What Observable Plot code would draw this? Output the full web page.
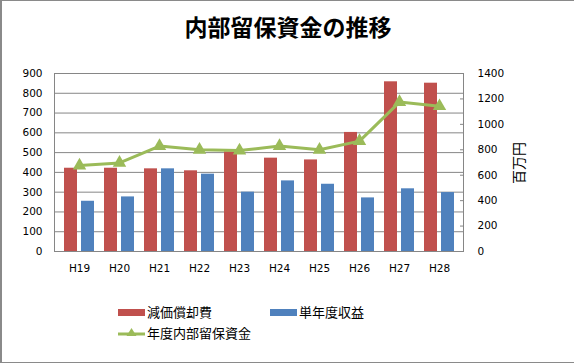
<!DOCTYPE html>
<html><head><meta charset="utf-8">
<script src="https://cdn.jsdelivr.net/npm/d3@7"></script>
<script src="https://cdn.jsdelivr.net/npm/@observablehq/plot@0.6"></script>
<style>
body{margin:0;background:#fff;}
#wrap{position:relative;width:572px;height:361px;border:1px solid #8a8a8a;border-left:2px solid #8a8a8a;overflow:hidden;font-family:"Noto Sans CJK JP","DejaVu Sans",sans-serif;background:#fff;}
#title{position:absolute;left:0;top:8px;width:572px;text-align:center;font-size:23px;font-weight:bold;line-height:34px;}
#chart{position:absolute;left:-2px;top:55px;}
#unit{position:absolute;left:486px;top:152px;width:60px;height:20px;line-height:20px;text-align:center;font-size:14px;white-space:nowrap;transform:rotate(-90deg);}
.lg{position:absolute;font-size:13px;line-height:16px;display:flex;align-items:center;white-space:nowrap;}
.sw{display:inline-block;width:27px;height:7px;margin-right:2px;}
</style></head>
<body>
<div id="wrap">
<div id="title">内部留保資金の推移</div>
<div id="chart"></div>
<div id="unit">百万円</div>
<div class="lg" style="left:116px;top:303px;"><span class="sw" style="background:#C0504D"></span>減価償却費</div>
<div class="lg" style="left:268px;top:303px;"><span class="sw" style="background:#4F81BD"></span>単年度収益</div>
<div class="lg" style="left:116px;top:324px;"><svg width="29" height="12" style="margin-right:0"><line x1="0" y1="7" x2="27" y2="7" stroke="#9BBB59" stroke-width="3"/><path d="M13.5,1 L18.5,9 L8.5,9 Z" fill="#9BBB59"/></svg>年度内部留保資金</div>
</div>
<script>
const years = ["H19","H20","H21","H22","H23","H24","H25","H26","H27","H28"];
const depreciation = [421, 421, 418, 408, 504, 472, 463, 602, 858, 851];
const annualProfit = [254, 276, 418, 391, 300, 357, 340, 271, 317, 298];
const retained = [676, 697, 829, 800, 794, 829, 800, 868, 1175, 1143];
const leftTicks = [0,100,200,300,400,500,600,700,800,900];
const rightTicks = [0,200,400,600,800,1000,1200,1400];

const k = 900/1400;
const redRows = years.map((y,i)=>({year:y, v:depreciation[i]}));
const blueRows = years.map((y,i)=>({year:y, v:annualProfit[i]}));
const lineRows = years.map((y,i)=>({year:y, v:retained[i]*k}));
const grey = "#868686";

const chart = Plot.plot({
  width: 574, height: 220,
  marginTop: 17, marginBottom: 25, marginLeft: 54, marginRight: 111,
  style: {fontFamily: "DejaVu Sans, sans-serif", fontSize: "10.5px", color: "#000", background: "transparent"},
  x: {domain: years, padding: 0, axis: null},
  y: {domain: [0, 900], axis: null},
  marks: [
    Plot.gridY(leftTicks, {stroke: grey, strokeOpacity: 1}),
    Plot.barY(redRows, {x: "year", y: "v", fill: "#C0504D", insetLeft: 5, insetRight: 22}),
    Plot.barY(blueRows, {x: "year", y: "v", fill: "#4F81BD", insetLeft: 22, insetRight: 5}),
    Plot.frame({stroke: grey}),
    Plot.line(lineRows, {x: "year", y: "v", stroke: "#9BBB59", strokeWidth: 3}),
    Plot.dot(lineRows, {x: "year", y: "v", symbol: "triangle", fill: "#9BBB59", r: 5}),
    Plot.axisY(leftTicks, {anchor: "left", tickSize: 0, tickPadding: 12, label: null}),
    Plot.axisY(rightTicks.map(v=>v*k), {anchor: "right", tickSize: -4, tickPadding: 18, stroke: grey, tickFormat: d => String(Math.round(d/k)), label: null}),
    Plot.axisX(years, {anchor: "bottom", tickSize: 0, tickPadding: 13, label: null})
  ]
});
document.getElementById("chart").appendChild(chart);
</script>
</body></html>
